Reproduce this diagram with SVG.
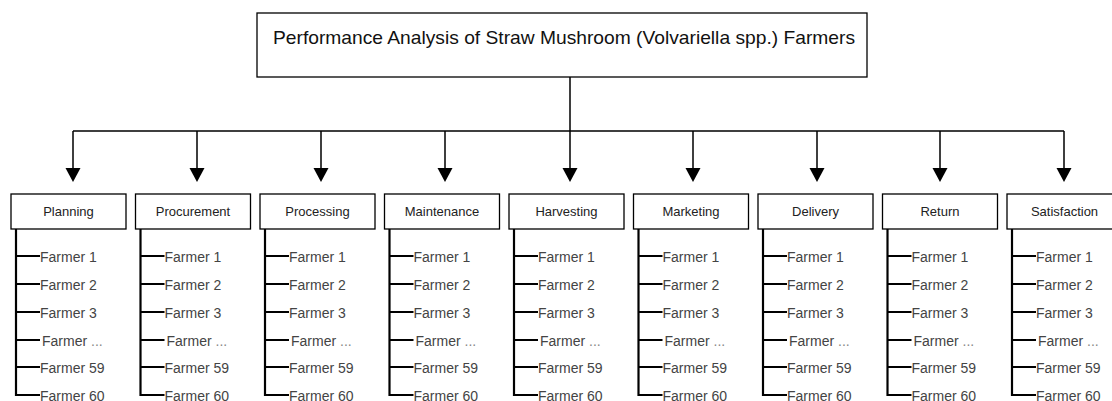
<svg xmlns="http://www.w3.org/2000/svg" width="1112" height="401" viewBox="0 0 1112 401">
<defs>
<style>
.box{fill:#fff;stroke:#000;stroke-width:1.3}
.title{font-family:"Liberation Sans",Arial,sans-serif;font-size:19px;fill:#111}
.lbl{font-family:"Liberation Sans",Arial,sans-serif;font-size:13px;fill:#222;text-anchor:middle}
.fm{font-family:"Liberation Sans",Arial,sans-serif;font-size:14px;fill:#444}
.ln{stroke:#000;stroke-width:1.5;fill:none}
.tree{stroke:#000;stroke-width:2.2;fill:none}
.tick{stroke:#000;stroke-width:1.8;fill:none}
.ah{fill:#000}
</style>
<g id="farmers">
<path class="tree" d="M5,0 V167"/>
<path class="tick" d="M5,27 H29 M5,55 H29 M5,83 H29 M5,111 H29 M5,138 H29 M5,166 H29"/>
<text class="fm" x="29" y="33">Farmer 1</text>
<text class="fm" x="29" y="61">Farmer 2</text>
<text class="fm" x="29" y="89">Farmer 3</text>
<text class="fm" x="31" y="117">Farmer <tspan fill="#888">...</tspan></text>
<text class="fm" x="29" y="144">Farmer 59</text>
<text class="fm" x="29" y="172">Farmer 60</text>
</g>
<path id="arrow" class="ah" d="M-7.5,0 L7.5,0 L0,14 Z"/>
</defs>

<g id="connectors">
<path class="ln" d="M570,77 V131 M73,131 H1064"/>
<path class="ln" d="M73,131 V169 M197,131 V169 M321,131 V169 M445,131 V169 M570,131 V169 M693,131 V169 M817,131 V169 M940,131 V169 M1064,131 V169"/>
<use href="#arrow" x="73" y="168"/>
<use href="#arrow" x="197" y="168"/>
<use href="#arrow" x="321" y="168"/>
<use href="#arrow" x="445" y="168"/>
<use href="#arrow" x="570" y="168"/>
<use href="#arrow" x="693" y="168"/>
<use href="#arrow" x="817" y="168"/>
<use href="#arrow" x="940" y="168"/>
<use href="#arrow" x="1064" y="168"/>
</g>

<g id="root">
<rect class="box" x="257" y="13" width="610" height="64"/>
<text class="title" x="273" y="44" textLength="582" lengthAdjust="spacingAndGlyphs">Performance Analysis of Straw Mushroom (Volvariella spp.) Farmers</text>
</g>

<g id="planning">
<rect class="box" x="11" y="194" width="115" height="35"/>
<text class="lbl" x="68.5" y="216">Planning</text>
<use href="#farmers" x="11" y="229"/>
</g>
<g id="procurement">
<rect class="box" x="135.5" y="194" width="115" height="35"/>
<text class="lbl" x="193" y="216">Procurement</text>
<use href="#farmers" x="135.5" y="229"/>
</g>
<g id="processing">
<rect class="box" x="260" y="194" width="115" height="35"/>
<text class="lbl" x="317.5" y="216">Processing</text>
<use href="#farmers" x="260" y="229"/>
</g>
<g id="maintenance">
<rect class="box" x="384.5" y="194" width="115" height="35"/>
<text class="lbl" x="442" y="216">Maintenance</text>
<use href="#farmers" x="384.5" y="229"/>
</g>
<g id="harvesting">
<rect class="box" x="509" y="194" width="115" height="35"/>
<text class="lbl" x="566.5" y="216">Harvesting</text>
<use href="#farmers" x="509" y="229"/>
</g>
<g id="marketing">
<rect class="box" x="633.5" y="194" width="115" height="35"/>
<text class="lbl" x="691" y="216">Marketing</text>
<use href="#farmers" x="633.5" y="229"/>
</g>
<g id="delivery">
<rect class="box" x="758" y="194" width="115" height="35"/>
<text class="lbl" x="815.5" y="216">Delivery</text>
<use href="#farmers" x="758" y="229"/>
</g>
<g id="return">
<rect class="box" x="882.5" y="194" width="115" height="35"/>
<text class="lbl" x="940" y="216">Return</text>
<use href="#farmers" x="882.5" y="229"/>
</g>
<g id="satisfaction">
<rect class="box" x="1007" y="194" width="115" height="35"/>
<text class="lbl" x="1064.5" y="216">Satisfaction</text>
<use href="#farmers" x="1007" y="229"/>
</g>
</svg>
